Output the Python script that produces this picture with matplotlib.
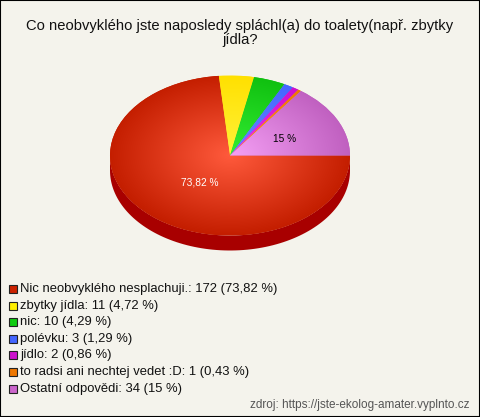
import numpy as np
import matplotlib
matplotlib.use("Agg")
import matplotlib.pyplot as plt
from matplotlib.patches import Polygon, Rectangle
from matplotlib.colors import to_rgb

# Data
odpovedi = ["Nic neobvyklého nesplachuji.", "zbytky jídla", "nic", "polévku",
            "jídlo", "to radsi ani nechtej vedet :D", "Ostatní odpovědi"]
pocty = [172, 11, 10, 3, 2, 1, 34]
procenta = [73.82, 4.72, 4.29, 1.29, 0.86, 0.43, 15]
barvy_stred = ["#ff5a3c", "#fff23a", "#33ee33", "#6688ff", "#ee33ee", "#ff9922", "#f5a0f5"]
barvy_okraj = ["#c41e00", "#ffe000", "#10c010", "#4466ff", "#cc11cc", "#ee7700", "#c060c0"]
barvy_legenda = ["#cc2200", "#ffee00", "#11cc11", "#4466ff", "#cc11cc", "#ee7700", "#cc66cc"]
barva_bok = "#a80000"

W, H = 480, 417
BG = "#f4f3ec"

plt.rcParams["font.family"] = ["Liberation Sans", "DejaVu Sans"]

fig = plt.figure(figsize=(W / 100, H / 100), dpi=100)
fig.patch.set_facecolor(BG)

def fx(px):
    return px / W

def fy(py):
    return 1 - py / H

# pie axes: ellipse 240x160 px, depth 15 px
cx, cy, rx, ry, hloubka = 230, 155.5, 120, 80, 15
d = hloubka / ry
ax = fig.add_axes([fx(cx - rx), fy(cy + ry + hloubka), 2 * rx / W, (2 * ry + hloubka) / H])
wedges, _ = ax.pie(procenta, startangle=0, counterclock=False, radius=1,
                   colors=barvy_okraj, wedgeprops=dict(linewidth=0))
ax.set_aspect("auto")
ax.axis("off")

# side of the pie (front half)
for w in wedges:
    t1, t2 = w.theta1 % 360, w.theta2 % 360
    if t2 <= t1:
        t2 += 360
    for a, b in [(t1, t2), (t1 - 360, t2 - 360), (t1 + 360, t2 + 360)]:
        lo, hi = max(a, 180), min(b, 360)
        if hi > lo:
            t = np.radians(np.linspace(lo, hi, 100))
            xs = np.concatenate([np.cos(t), np.cos(t[::-1])])
            ys = np.concatenate([np.sin(t), np.sin(t[::-1]) - d])
            ax.add_patch(Polygon(np.column_stack([xs, ys]), closed=True,
                                 facecolor=barva_bok, edgecolor="none", zorder=0))

# radial gradient on each wedge
gx, gy = np.meshgrid(np.linspace(-1, 1, 400), np.linspace(-1, 1, 400))
rr = np.clip(np.sqrt(gx ** 2 + gy ** 2), 0, 1)[..., None]
for w, c1, c2 in zip(wedges, barvy_stred, barvy_okraj):
    img = np.array(to_rgb(c1)) * (1 - rr) + np.array(to_rgb(c2)) * rr
    im = ax.imshow(img, extent=(-1, 1, -1, 1), origin="lower", zorder=2,
                   aspect="auto", interpolation="bilinear")
    im.set_clip_path(w)
ax.set_xlim(-1, 1)
ax.set_ylim(-1 - d, 1)

# percentage labels for the big slices
for w, p in zip(wedges, procenta):
    if p < 10:
        continue
    mid = np.radians((w.theta1 + w.theta2) / 2)
    txt = f"{p:.2f}".rstrip("0").rstrip(".").replace(".", ",") + " %"
    barva = "white" if p > 50 else "black"
    ax.text(0.45 * np.cos(mid) + 0.05, 0.45 * np.sin(mid), txt, ha="center", va="center",
            fontsize=7.3, color=barva, zorder=5)

# title
fig.text(0.5, fy(33), "Co neobvyklého jste naposledy spláchl(a) do toalety(např. zbytky\njídla?",
         ha="center", va="center", fontsize=10.6, linespacing=1.0, color="#111111")

# legend
y0, krok = 289, 16.6
for i, (o, n, p, c) in enumerate(zip(odpovedi, pocty, procenta, barvy_legenda)):
    y = y0 + i * krok
    fig.patches.append(Rectangle((fx(9), fy(y + 4)), 8 / W, 8 / H, transform=fig.transFigure,
                                 facecolor=c, edgecolor="#222222", linewidth=0.8))
    ptxt = f"{p:.2f}".rstrip("0").rstrip(".").replace(".", ",")
    fig.text(fx(20), fy(y), f"{o}: {n} ({ptxt} %)", ha="left", va="center",
             fontsize=9.4, color="#111111")

fig.text(fx(469), fy(405), "zdroj: https://jste-ekolog-amater.vyplnto.cz", ha="right",
         va="center", fontsize=8.5, color="#555555")

# border
fig.patches.append(Rectangle((0, 0), 1, 1, transform=fig.transFigure, fill=False,
                             edgecolor="black", linewidth=1.5))

plt.savefig("out.png", dpi=100, facecolor=BG)
